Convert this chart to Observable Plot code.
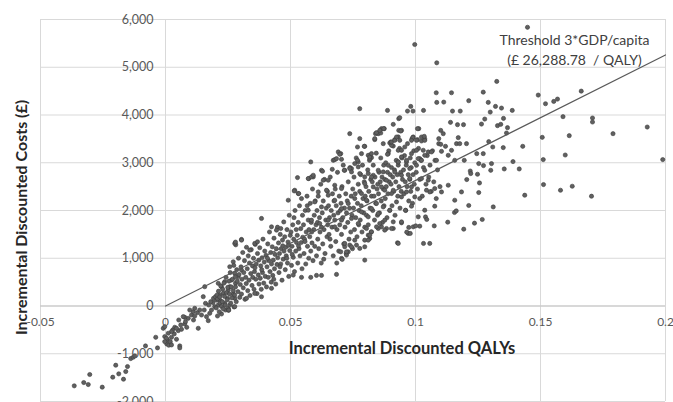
<!DOCTYPE html>
<html><head><meta charset="utf-8">
<script src="https://cdn.jsdelivr.net/npm/d3@7"></script>
<script src="https://cdn.jsdelivr.net/npm/@observablehq/plot@0.6"></script>
<style>html,body{margin:0;padding:0;background:#fff;overflow:hidden}</style>
</head><body><div id="chart"></div>
<script>
// Willingness-to-pay threshold (£ per QALY)
const threshold = 26288.78;
const thresholdQaly = [0, 0.2];

const xTicks = [-0.05, 0, 0.05, 0.1, 0.15, 0.2];
const xTickLabels = ["-0.05", "0", "0.05", "0.1", "0.15", "0.2"];
const yTicks = [-2000, -1000, 0, 1000, 2000, 3000, 4000, 5000, 6000];
const yTickLabels = ["-2,000", "-1,000", "0", "1,000", "2,000", "3,000", "4,000", "5,000", "6,000"];

const xTitle = "Incremental Discounted QALYs";
const yTitle = "Incremental Discounted Costs (£)";
const thresholdLabel = "Threshold 3*GDP/capita\n(£ 26,288.78  / QALY)";

// [incremental QALYs, incremental costs £]
const tailPoints = [
[-0.0365,-1672],[-0.0327,-1603],[-0.0309,-1645],[-0.0303,-1435],[-0.0253,-1700],
[-0.0211,-1491],[-0.0187,-1421],[-0.0168,-1533],[-0.0159,-1373],[-0.0152,-1268],[-0.0199,-1240],
[-0.0139,-1101],[-0.0129,-1073],[-0.0123,-1045],[-0.008,-836],[-0.0032,-878],[-0.0039,-655],
[-0.0009,-467],[-0.0003,-432],[-0.0003,-641],[0.0008,-711],[0.0005,-794],[0.0013,-822],[0.0019,-746],
[0.0024,-655],[0.0035,-585],[0.0029,-502],[0.0037,-446],[0.0051,-516],[0.0057,-836],[0.0057,-878],
[0.0044,-697],[0.0064,-488],[0.0077,-376],[0.0085,-446],[0.0053,-293],[0.0091,-258],[0.0112,-293],
[0.0131,-467],[0.0077,-237],[0.0104,-188],[0.0111,-118],[0.0128,-139],[0.0117,-209],[0.0144,-188],
[0.0155,-84],[0.0137,-84],[0.0164,-223],[0.0171,-307],[0.0177,-153],[0.0184,-84],[0.0197,-14],
[0.019,70],[0.0204,125],[0.0211,21],[0.0219,111],[0.0224,-167],[0.0208,-209],[0.024,-84],[0.0251,-49],
[0.0257,21],[0.0237,56],[0.0248,160],[0.0231,265],[0.0271,251],[0.0277,160],[0.0151,195],[0.016,56],
[0.0173,21],[0.0181,90],[0.0192,160],[0.02,195],[0.0217,230],[0.0251,334],[0.0257,404],[0.0224,404],
[0.0211,474],[0.0237,509],[0.0264,543],[0.028,474],[0.0291,613],[0.0277,683],[0.0304,752],[0.0271,926],
[0.0257,822],[0.0281,1281],[0.0117,-49],[0.0097,-84],[0.0071,-223],[0.008,-328],[0.0061,-397],
[0.0044,-467],[0.0024,-537],[0.0011,-571],[0.0004,-676],[0.0024,-815],[-0.0003,-746],[0.0157,404]
];

const corePoints = [
[0.0203,-40],[0.0208,150],[0.0212,310],[0.0215,-120],[0.0218,60],[0.0221,420],[0.0224,-10],[0.0206,230],[0.0217,190],
[0.0227,90],[0.0229,350],[0.0231,-60],[0.0234,480],[0.0236,200],[0.0239,20],[0.0242,600],[0.0244,280],[0.0247,130],[0.0249,390],
[0.0252,-90],[0.0254,520],[0.0256,250],[0.0259,700],[0.0261,60],[0.0263,400],[0.0266,170],[0.0268,560],[0.0271,320],[0.0273,850],[0.0274,-20],
[0.0277,230],[0.0279,610],[0.028,400],[0.0283,90],[0.0285,760],[0.0287,520],[0.029,300],[0.0292,1000],[0.0294,660],[0.0297,180],[0.0299,450],
[0.0302,820],[0.0304,250],[0.0306,560],[0.0309,1120],[0.0311,380],[0.0313,700],[0.0316,950],[0.0318,140],[0.0321,600],[0.0323,470],[0.0324,1230],
[0.0327,780],[0.0329,320],[0.0331,1050],[0.0334,540],[0.0336,900],[0.0338,220],[0.0341,680],[0.0343,1180],[0.0346,430],[0.0348,840],[0.0349,600],
[0.0352,1000],[0.0354,350],[0.0356,720],[0.0359,1290],[0.0361,560],[0.0363,880],[0.0366,260],[0.0368,1100],[0.0371,650],[0.0373,960],[0.0374,460],[0.0358,800],
[0.0377,1220],[0.0379,580],[0.0381,840],[0.0383,350],[0.0386,1010],[0.0388,700],[0.039,1400],[0.0393,480],[0.0395,920],[0.0397,1150],[0.0399,620],[0.0385,760],
[0.0402,1060],[0.0404,400],[0.0406,820],[0.0409,1300],[0.0411,600],[0.0413,950],[0.0416,1550],[0.0418,720],[0.0421,1120],[0.0423,500],[0.0424,880],[0.0408,1000],
[0.0427,1240],[0.0429,640],[0.0431,960],[0.0434,1420],[0.0436,780],[0.0438,1080],[0.0441,460],[0.0443,1200],[0.0446,870],[0.0448,1650],[0.0449,1010],[0.0433,560],
[0.0452,1320],[0.0454,700],[0.0456,1100],[0.0459,1500],[0.0461,880],[0.0463,1200],[0.0466,540],[0.0468,1380],[0.0471,980],[0.0473,1760],[0.0474,1150],[0.0458,820],[0.0469,1260],
[0.0477,1450],[0.0479,760],[0.0481,1230],[0.0483,1050],[0.0486,1600],[0.0488,900],[0.049,1340],[0.0493,620],[0.0495,1900],[0.0497,1160],[0.0499,1480],[0.0485,1000],[0.0492,1270],
[0.0502,1550],[0.0504,850],[0.0506,1250],[0.0509,1700],[0.0511,1020],[0.0513,1400],[0.0516,720],[0.0518,2000],[0.0521,1150],[0.0523,1600],[0.0524,1330],[0.0507,1080],[0.0514,1850],
[0.0527,1480],[0.0529,900],[0.0531,1750],[0.0534,1200],[0.0536,2100],[0.0538,1050],[0.0541,1620],[0.0543,1330],[0.0546,780],[0.0548,1900],[0.0549,1440],[0.0532,1260],[0.0544,2250],
[0.0552,1700],[0.0554,1100],[0.0556,1400],[0.0559,2000],[0.0561,880],[0.0563,1550],[0.0566,2300],[0.0568,1250],[0.0571,1800],[0.0573,1000],[0.0574,1600],[0.0558,1350],[0.0567,2100],
[0.0577,1450],[0.0579,2150],[0.0581,1150],[0.0583,1750],[0.0586,1320],[0.0588,2450],[0.059,950],[0.0593,1600],[0.0595,1900],[0.0597,1250],[0.0599,2200],[0.0585,1550],
[0.0602,1700],[0.0604,1050],[0.0606,2000],[0.0609,1400],[0.0611,2300],[0.0613,1200],[0.0616,1850],[0.0618,1550],[0.0621,2550],[0.0623,900],[0.0624,1650],[0.0608,1750],
[0.0627,1950],[0.0629,1300],[0.0631,2200],[0.0634,1600],[0.0636,2650],[0.0638,1100],[0.0641,1800],[0.0643,2050],[0.0646,1450],[0.0648,2400],[0.0649,1700],[0.0633,980],
[0.0652,2100],[0.0654,1500],[0.0656,1850],[0.0659,2700],[0.0661,1250],[0.0663,2000],[0.0666,1650],[0.0668,2350],[0.0671,1050],[0.0673,1900],[0.0674,2200],[0.0658,1400],
[0.0677,1800],[0.0679,2450],[0.0681,1350],[0.0683,2100],[0.0686,1600],[0.0688,2800],[0.069,1950],[0.0693,1150],[0.0695,2300],[0.0697,1700],[0.0699,2000],[0.0685,900],
[0.0702,2150],[0.0704,1500],[0.0706,2500],[0.0709,1850],[0.0711,2950],[0.0713,1300],[0.0716,2050],[0.0718,1650],[0.0721,2350],[0.0723,1100],[0.0724,1950],
[0.0727,2200],[0.0729,1750],[0.0731,2600],[0.0734,1400],[0.0736,2050],[0.0738,2900],[0.0741,1550],[0.0743,2300],[0.0746,1900],[0.0748,1200],[0.0749,2450],
[0.0752,2050],[0.0754,2700],[0.0756,1600],[0.0759,2350],[0.0761,1850],[0.0763,3100],[0.0766,1450],[0.0768,2150],[0.0771,2550],[0.0773,1700],[0.0774,2000],
[0.0777,2400],[0.0779,1800],[0.0781,2750],[0.0783,2100],[0.0786,1550],[0.0788,2950],[0.079,2250],[0.0793,1950],[0.0795,2600],[0.0797,1650],[0.0799,2300],
[0.0802,2500],[0.0804,1900],[0.0806,2200],[0.0809,2850],[0.0811,1700],[0.0813,2400],[0.0816,3050],[0.0818,2050],[0.0821,2650],[0.0823,1550],[0.0824,2300],
[0.0827,2600],[0.0829,2000],[0.0831,2950],[0.0834,2300],[0.0836,1800],[0.0838,2700],[0.0841,2150],[0.0843,3200],[0.0846,2450],[0.0848,1900],[0.0849,2550],
[0.0852,2350],[0.0854,2800],[0.0856,1950],[0.0859,2600],[0.0861,3100],[0.0863,2200],[0.0866,2700],[0.0868,1750],[0.0871,2450],[0.0873,2950],[0.0874,2100],
[0.0877,2650],[0.0879,2250],[0.0881,3000],[0.0883,2500],[0.0886,1850],[0.0888,2800],[0.089,2350],[0.0893,3250],[0.0895,2600],[0.0897,2000],[0.0899,2750],
[0.0902,2550],[0.0904,2900],[0.0906,2100],[0.0909,2700],[0.0911,3350],[0.0913,2400],[0.0916,2850],[0.0918,1900],[0.0921,2600],[0.0923,3050],
[0.0927,2750],[0.0929,2300],[0.0931,2950],[0.0934,2500],[0.0936,3300],[0.0938,2050],[0.0941,2800],[0.0943,2400],[0.0946,3100],[0.0948,2650],
[0.0952,2850],[0.0954,2350],[0.0956,3150],[0.0959,2600],[0.0961,2000],[0.0963,2950],[0.0966,2500],[0.0968,3400],[0.0971,2750],[0.0973,2200],
[0.0977,2650],[0.0979,3100],[0.0981,2400],[0.0983,2900],[0.0986,3500],[0.0988,2150],[0.099,2750],[0.0993,3250],[0.0995,2550],[0.0997,3000],
[0.1003,2800],[0.1008,2450],[0.1012,3300],[0.1017,2650],[0.1022,3050],[0.1027,2300],[0.1032,2900],[0.1037,3500],[0.1042,2550],[0.1047,3150],
[0.1053,2700],[0.1058,2950],[0.1063,2400],[0.1068,3250],[0.1073,2600],[0.1078,3050],[0.1083,2250],[0.1088,2850],[0.1093,3400],[0.1098,2500]
];

const upperPoints = [
[0.0911,3804],[0.0737,3609],[0.0864,3714],[0.0851,3622],[0.084,3609],[0.0933,3678],[0.0944,3678],[0.0777,3505],
[0.0768,3330],[0.0797,3344],[0.0784,3191],[0.0817,3156],[0.0824,3107],[0.0897,3414],[0.0904,3365],[0.0917,3484],
[0.0931,3540],[0.0991,3540],[0.1008,3484],[0.1013,3714],[0.1024,3456],[0.1031,3261],[0.1051,3226],[0.0691,3226],
[0.0701,3191],[0.0671,3051],[0.0677,3065],[0.0581,3017],[0.0573,2669],[0.0591,2703],[0.0624,2843],[0.0631,2634],
[0.0651,2634],[0.0717,2843],[0.0744,2878],[0.0757,2983],[0.0771,2913],[0.0777,2774],[0.0797,2703],[0.0811,2774],
[0.0831,2738],[0.0851,2843],[0.0871,2808],[0.0891,2947],[0.0931,3017],[0.0944,3121],[0.0964,3017],[0.0977,2878],
[0.1004,2947],[0.1017,3086],[0.1037,2843],[0.1051,2634],[0.1024,2669],
[0.0777,4132],[0.0888,4096],[0.0933,3923],[0.0837,3484],[0.0851,3609],[0.0861,3623],[0.0875,3714],[0.0795,3344],
[0.0697,3177],[0.0684,3086],[0.0704,3072],[0.0528,2689],[0.0571,2669],[0.0584,2703],[0.0591,2738],[0.0628,2822],
[0.0667,2863],[0.0517,2424],[0.0715,2842],[0.0737,2878],[0.0744,2808],[0.0771,3016],[0.0811,3156],[0.0817,3086],
[0.0891,3191],[0.0931,3016],[0.0931,3260],[0.0937,3469],[0.0901,3434],[0.0531,2355],[0.0491,2215],[0.0515,2410],[0.0533,2355],
[0.0937,3943],[0.0844,3630],[0.0857,3678],[0.0873,3714],[0.0941,3664],[0.1008,3714],[0.0989,3526],[0.0984,3469],
[0.1004,3469],[0.1024,3539],[0.1037,3469],[0.1035,3553],[0.0768,3051],[0.0817,3121],[0.0824,3191],[0.0837,3505],
[0.0871,3400],[0.0888,3177],[0.0904,3435],[0.0917,3469],[0.0924,3539],[0.0944,3260],[0.0957,3330],[0.0964,3051],
[0.0984,3191],[0.1004,3260],[0.1011,3086],[0.1024,3051],[0.1037,3156],[0.1064,3226],[0.1084,3051],[0.1093,3505],
[0.1131,3156],[0.1144,3260],[0.1157,3051],[0.1204,3400],[0.1271,3191],[0.1304,2982],
[0.1131,2529],[0.1184,2389],[0.1157,2215],[0.1104,2389],[0.1077,2460],[0.1057,2389],[0.0977,2669],[0.0944,2738],
[0.0917,2807],[0.0884,2633],[0.0911,2424],[0.0864,2494],[0.0824,2703],
[0.0384,1833],[0.0304,1394],[0.0277,1310],[0.0337,1170],[0.028,1338],[0.0304,1379],[0.0357,1310],[0.0368,1345],
[0.0424,1658],[0.0444,1589],[0.0461,1623]
];

const lowerPoints = [
[0.0511,648],[0.0544,600],[0.0581,600],[0.0604,641],[0.0624,641],[0.0684,662],[0.0704,997],[0.0724,1066],
[0.0731,1135],[0.0424,370],[0.0384,194],[0.0357,264],[0.0324,160],[0.0277,-14],[0.0253,-84],
[0.0707,976],[0.0797,961],[0.0701,1135],[0.0724,1135],[0.0717,1240],[0.0737,1275],[0.0764,1275],[0.0777,1205],
[0.0757,1379],[0.0797,1379],[0.0817,1414],[0.0811,1484],[0.0824,1553],[0.0804,1623],[0.0928,1324],[0.0911,1623],
[0.0884,1623],[0.0864,1658],[0.0851,1623],[0.0857,1728],[0.0877,1797],[0.0911,1762],[0.0944,1742],[0.1017,1672],
[0.0984,2090],[0.1077,2090],[0.096,2006],
[0.0877,1589],[0.0904,1623],[0.0944,1762],[0.0971,1519],[0.0991,1658],[0.1057,1310],[0.1011,1867],[0.0931,1310],
[0.0844,1658],[0.0817,1484],[0.0811,1379],[0.0797,1240],[0.0744,1240],[0.0717,1310],
[0.0877,2425],[0.0904,2355],[0.0924,2180],[0.0944,2285],[0.0964,2389],[0.0984,2494],[0.0997,2285],[0.1017,2250],
[0.1044,2425],[0.0871,2075],[0.0897,2006],[0.0851,1937],[0.0824,2041],[0.0804,2215],[0.0784,2355],[0.0757,2250],
[0.0731,2146],[0.0704,2041],[0.0677,2215],[0.0651,2319],[0.0624,2075],[0.0597,2180],[0.0571,2006],[0.0584,1797],
[0.0617,1728],[0.0651,1797],[0.0677,1658],[0.0704,1797],[0.0744,1832],[0.0771,1728],[0.0784,1971],[0.0811,1867],
[0.0844,2146],[0.0797,2564],[0.0831,2494],[0.0704,2460],[0.0677,2529],[0.0644,2425],[0.0611,2389]
];

const outerPoints = [
[0.1448,5837],[0.0997,5476],[0.1085,5093],[0.1325,4703],[0.1083,4466],[0.1144,4466],[0.1271,4479],[0.1085,4264],
[0.1113,4270],[0.1213,4299],[0.1491,4417],[0.152,4236],[0.1553,4284],[0.1568,4333],[0.1663,4500],[0.159,3965],
[0.1708,3937],[0.1708,3853],[0.1927,3748],[0.179,3609],[0.1615,3567],[0.1507,3532],[0.1599,3162],[0.1511,3066],
[0.1989,3066],[0.1429,3344],[0.1512,2543],[0.158,2424],[0.1627,2508],[0.1704,2299],[0.1437,2320],[0.1415,2870],
[0.139,3024],[0.1355,2870],[0.1311,2075],[0.1236,1735],[0.1267,1812],[0.1193,1609],[0.1032,1310],[0.1213,2105],
[0.1253,2376],[0.1129,1756],[0.1156,1958],[0.1163,1992],[0.1075,1678],[0.1037,2006],[0.104,1866],[0.1045,1812],
[0.1001,1678],[0.0973,1645],[0.0965,1547],[0.0979,1519],
[0.1032,4096],[0.0981,4180],[0.099,4082],[0.0968,4082],[0.1148,4082],[0.1179,4082],[0.1291,4264],[0.1299,4061],
[0.132,4180],[0.1344,4145],[0.1387,4096],[0.1264,3810],[0.1277,3915],[0.1328,3777],[0.1341,3804],[0.1352,3929],
[0.1368,3735],[0.1364,3622],[0.114,3846],[0.1168,3797],[0.1192,3797],[0.1101,3678],[0.1111,3609],[0.1171,3526],
[0.1164,3400],[0.1177,3400],[0.1293,3442],[0.1309,3330],[0.1351,3317],[0.1245,3191],[0.1253,2982],[0.1272,2940],
[0.1301,2842],[0.1195,3051],[0.1219,2827],[0.1221,2773],[0.1248,2759],[0.1256,2577],[0.1205,2648],[0.1101,3386],
[0.112,3344],[0.1104,3239]
];

const points = [...tailPoints, ...corePoints, ...upperPoints, ...lowerPoints, ...outerPoints]
  .map(([qaly, cost]) => ({qaly, cost}));
const thresholdLine = thresholdQaly.map(qaly => ({qaly, cost: qaly * threshold}));
const xTickData = xTicks.map((v, i) => ({v, label: xTickLabels[i]}));
const yTickData = yTicks.map((v, i) => ({v, label: yTickLabels[i]}));

const chart = Plot.plot({
  width: 673,
  height: 402,
  marginLeft: 40,
  marginRight: 8,
  marginTop: 19,
  marginBottom: 1,
  x: {domain: [-0.05, 0.2], axis: null},
  y: {domain: [-2000, 6000], axis: null},
  style: {fontFamily: "Lato, 'Open Sans', sans-serif", background: "#fff", overflow: "visible"},
  marks: [
    Plot.ruleX(xTicks, {stroke: "#d9d9d9", strokeWidth: 1}),
    Plot.ruleY(yTicks, {stroke: "#d9d9d9", strokeWidth: 1}),
    Plot.ruleY([0], {stroke: "#c4c4c4", strokeWidth: 1.2}),
    Plot.dot(points, {x: "qaly", y: "cost", r: 2.1, fill: "#606060", stroke: "#3c3c3c", strokeWidth: 0.6}),
    Plot.line(thresholdLine, {x: "qaly", y: "cost", stroke: "#5a5a5a", strokeWidth: 1.2}),
    Plot.text(yTickData, {x: () => 0, y: "v", text: "label", textAnchor: "end", dx: -12, fontSize: 12.5, fill: "#595959"}),
    Plot.text(xTickData, {x: "v", y: () => 0, text: "label", dy: 16, fontSize: 12, fill: "#595959"}),
    Plot.text([xTitle], {frameAnchor: "bottom", text: d => d, textAnchor: "middle", lineAnchor: "middle", dx: 49, dy: -53, fontSize: 16.5, fontWeight: "bold", fill: "#262626"}),
    Plot.text([yTitle], {frameAnchor: "left", text: d => d, textAnchor: "middle", lineAnchor: "middle", rotate: -90, dx: -19, dy: 7, fontSize: 16, fontWeight: "bold", fill: "#262626"}),
    Plot.text([thresholdLabel], {frameAnchor: "top-right", text: d => d, textAnchor: "middle", lineAnchor: "middle", lineHeight: 1.45, dx: -91, dy: 29, fontSize: 14, fill: "#404040"})
  ]
});
document.getElementById("chart").appendChild(chart);
</script>
</body></html>
